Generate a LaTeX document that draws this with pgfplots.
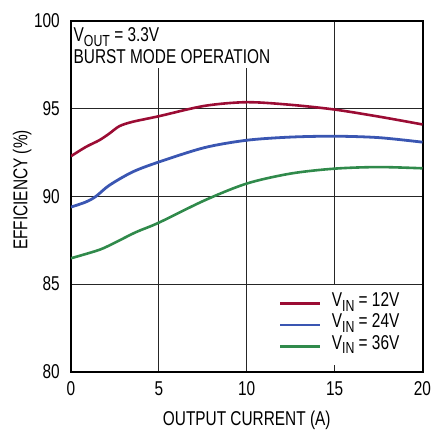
\documentclass[border=0pt]{standalone}
\usepackage{pgfplots}
\pgfplotsset{compat=1.18}
\usepackage{fontspec}
\setmainfont{Liberation Sans}[FakeStretch=0.77]
\definecolor{cred}{RGB}{155,12,52}
\definecolor{cblue}{RGB}{58,86,178}
\definecolor{cgreen}{RGB}{48,138,75}
\newcommand{\sub}[1]{\raisebox{-4.5bp}[0pt][0pt]{\fontsize{16bp}{16bp}\selectfont #1}}
\begin{document}
\begin{tikzpicture}
\begin{axis}[
  name=ax,
  scale only axis,
  width=351.5bp, height=350.7bp,
  xmin=0, xmax=20, ymin=80, ymax=100,
  xtick={0,5,10,15,20}, ytick={80,85,90,95,100},
  grid=major,
  major grid style={line width=1bp, black!85},
  axis line style={line width=2bp, black},
  major tick length=0pt,
  font=\fontsize{20bp}{22bp}\selectfont,
  /pgf/number format/assume math mode=true,
  xticklabel style={inner sep=0pt, anchor=north, yshift=-10bp},
  yticklabel style={inner sep=0pt, anchor=east, xshift=-11bp},
  xlabel={OUTPUT CURRENT (A)},
  ylabel={EFFICIENCY (\%)},
  xlabel style={at={(axis description cs:0.5,-0.152)}, anchor=base, inner sep=0pt},
  ylabel style={at={(axis description cs:-0.1238,0.518)}, anchor=base, inner sep=0pt},
  legend style={at={(axis description cs:0.580,0.133)}, anchor=west, draw=none, fill=white,
    inner xsep=4bp, inner ysep=8bp, row sep=0pt,
    font=\fontsize{20bp}{22bp}\selectfont,
    nodes={inner sep=0pt, text height=13.5bp, text depth=7.8bp},
    /tikz/every odd column/.append style={column sep=10bp}},
  legend cell align=left,
  legend image code/.code={\draw[#1] (0bp,0bp) -- (40bp,0bp);},
]
\addplot[cred, line width=2.6bp, smooth, tension=0.5, no marks] coordinates {(0,92.29) (0.85,92.82) (1.61,93.2) (2.18,93.58) (2.75,94.0) (3.5,94.25) (5,94.57) (7.6,95.16) (10,95.37) (12.5,95.22) (15,94.95) (17.5,94.55) (20,94.1)};
\addlegendentry{V\sub{IN} = 12V}
\addplot[cblue, line width=2.8bp, smooth, tension=0.5, no marks] coordinates {(0,89.39) (0.85,89.68) (1.42,90.0) (2.18,90.63) (3.5,91.39) (5,91.96) (7.6,92.78) (10,93.2) (12.5,93.38) (15,93.43) (17.5,93.35) (20,93.09)};
\addlegendentry{V\sub{IN} = 24V}
\addplot[cgreen, line width=2.6bp, smooth, tension=0.5, no marks] coordinates {(0,86.47) (1.61,86.95) (2.56,87.39) (3.7,87.96) (5,88.5) (7.6,89.77) (10,90.73) (12.5,91.3) (15,91.58) (17.5,91.67) (20,91.6)};
\addlegendentry{V\sub{IN} = 36V}
\fill[white] ([shift={(1.5bp,1.5bp)}]axis description cs:0,0.863) rectangle ([shift={(0bp,-1.5bp)}]axis description cs:0.572,1);
\node[anchor=north west, inner sep=0pt, align=left, font=\fontsize{20bp}{21.6bp}\selectfont] at ([shift={(2.5bp,-6.4bp)}]axis description cs:0,1) {V\sub{OUT} = 3.3V\\BURST MODE OPERATION};
\node[anchor=base east, inner sep=0pt, font=\fontsize{9.5bp}{11bp}\selectfont] at (axis description cs:1.0014,-0.187) {7803 F11b};
\end{axis}
\pgfresetboundingbox
\useasboundingbox ([shift={(-71bp,-67.3bp)}]ax.south west) rectangle ([shift={(10.5bp,21bp)}]ax.north east);
\end{tikzpicture}
\end{document}
